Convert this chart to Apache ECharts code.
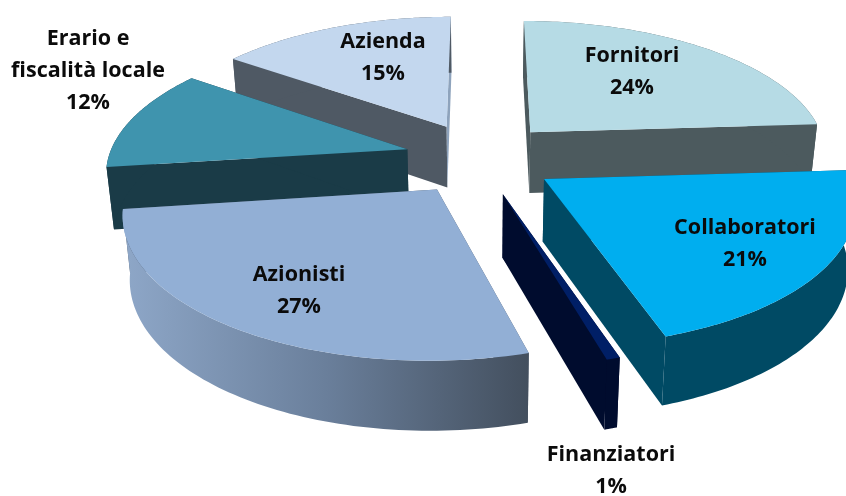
<!DOCTYPE html>
<html>
<head>
<meta charset="utf-8">
<style>html,body{margin:0;padding:0;background:#fff}#c{width:846px;height:496px}</style>
<script src="https://cdn.jsdelivr.net/npm/echarts@6/dist/echarts.min.js"></script>
</head>
<body>
<div id="c"></div>
<script>
// Data, clockwise from the top of the pie (labels show the rounded value)
var categories = ['Fornitori', 'Collaboratori', 'Finanziatori', 'Azionisti', 'Erario e\nfiscalità locale', 'Azienda'];
var values = [24, 21, 0.6, 27.3, 12, 15.1];

// Styles
var topColors = ['#b6dbe5', '#00aeef', '#001f66', '#92afd5', '#3f94ae', '#c3d7ee'];
var startWallColors = ['#4c5a5e', '#004a64', '#000c2e', '#4a5768', '#1a3b47', '#4f5964'];
var endWallColors = ['#4c5a5e', '#004a64', '#000c2e', '#4a5768', '#1a3b47', '#8ea3bc'];
var outerColors = ['#4c5a5e', '#004a64', '#000c2e', null, '#1a3b47', '#4f5964'];
var labelCentres = [[632, 72], [745, 244], [611, 471], [299, 291], [88, 71], [383, 58]];

// Projection of the pie disc onto the picture
var CX = 480, CY = 158, RX = 299, RY = 135;
var PERSPECTIVE = 0.15, EXPLODE_X = 0.253, EXPLODE_Y = 0.27, DEPTH = 62, BOTTOM_SHRINK = 0.98;

var total = values.reduce(function (a, b) { return a + b; }, 0);
function project(u, v, bottom) {
  var s = 1 / (1 + PERSPECTIVE * v);
  var k = bottom ? BOTTOM_SHRINK : 1;
  return [CX + RX * s * u * k, CY - RY * s * v + (bottom ? DEPTH * Math.pow(s, 0.6) : 0)];
}
function sliceAngles(i) {
  var before = 0;
  for (var j = 0; j < i; j++) before += values[j];
  var a0 = Math.PI / 2 - before / total * 2 * Math.PI;
  return [a0, a0 - values[i] / total * 2 * Math.PI];
}
function arc(a, ox, oy, bottom) {
  var pts = [], n = 80;
  for (var k = 0; k <= n; k++) {
    var t = a[0] + (a[1] - a[0]) * k / n;
    pts.push(project(ox + Math.cos(t), oy + Math.sin(t), bottom));
  }
  return pts;
}
var depthRank = values.map(function (_, i) {
  var a = sliceAngles(i);
  return { i: i, v: Math.sin((a[0] + a[1]) / 2) };
}).sort(function (p, q) { return q.v - p.v; }).map(function (p) { return p.i; });

function renderItem(params, api) {
  var i = params.dataIndex;
  var a = sliceAngles(i), mid = (a[0] + a[1]) / 2;
  var ox = EXPLODE_X * Math.cos(mid), oy = EXPLODE_Y * Math.sin(mid);
  var z = depthRank.indexOf(i) * 10 + 1;
  var topArc = arc(a, ox, oy, false), botArc = arc(a, ox, oy, true);
  var apexT = project(ox, oy, false), apexB = project(ox, oy, true);
  var outerFill = outerColors[i] || new echarts.graphic.LinearGradient(0, 0, 1, 0, [
    { offset: 0, color: '#8ea7c8' }, { offset: 0.5, color: '#6a7f9b' }, { offset: 1, color: '#434f5e' }
  ]);
  function poly(points, fill, dz) {
    return { type: 'polygon', z2: z + dz, shape: { points: points }, style: { fill: fill, stroke: null } };
  }
  var startWall = [apexT, topArc[0], botArc[0], apexB];
  var endWall = [apexT, topArc[topArc.length - 1], botArc[botArc.length - 1], apexB];
  var outerWall = topArc.concat(botArc.slice().reverse());
  var topFace = [apexT].concat(topArc);
  return {
    type: 'group',
    children: [
      poly(startWall, startWallColors[i], 0),
      poly(endWall, endWallColors[i], 0),
      poly(outerWall, outerFill, 1),
      poly(topFace, topColors[i], 2),
      {
        type: 'text', z2: 500,
        style: {
          text: categories[i] + '\n' + Math.round(api.value(0)) + '%',
          x: labelCentres[i][0], y: labelCentres[i][1],
          align: 'center', verticalAlign: 'middle',
          font: 'bold 21.5px "Open Sans"', lineHeight: 32, fill: '#0b0b0b'
        }
      }
    ]
  };
}

var chart = echarts.init(document.getElementById('c'), null, { renderer: 'canvas' });
chart.setOption({
  animation: false,
  backgroundColor: '#ffffff',
  series: [{
    type: 'custom',
    coordinateSystem: 'none',
    renderItem: renderItem,
    silent: true,
    data: values.map(function (v) { return [v]; })
  }]
});
</script>
</body>
</html>
